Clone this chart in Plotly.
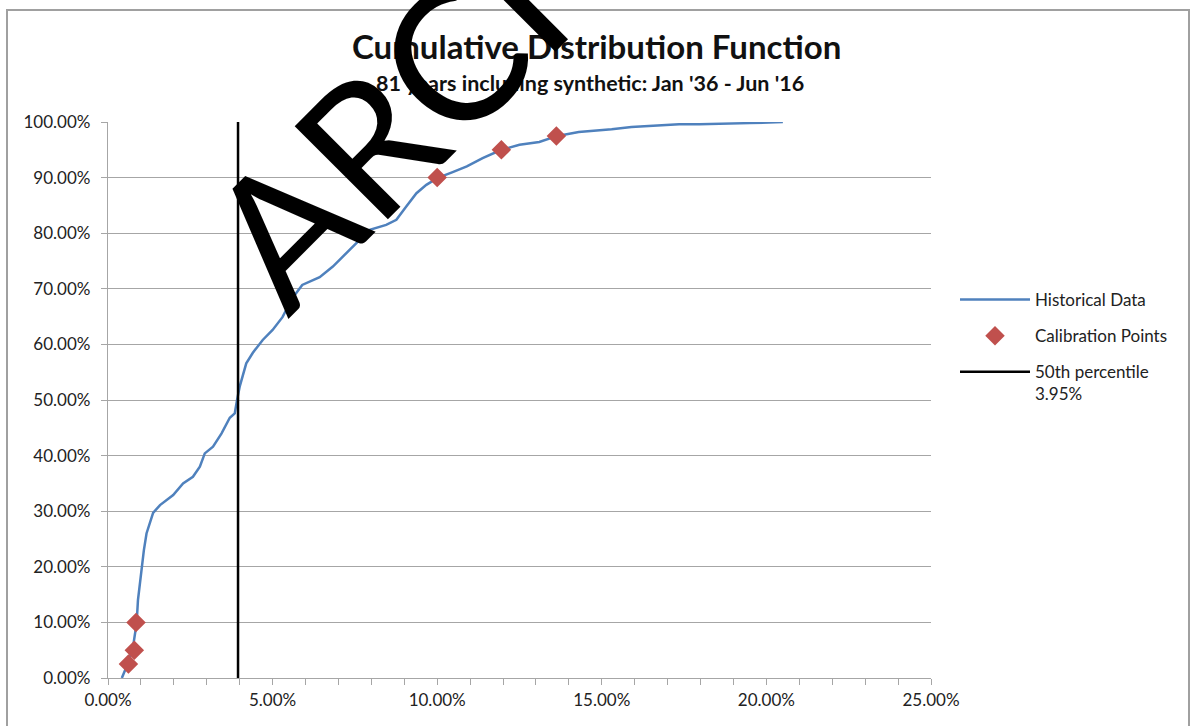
import plotly.graph_objects as go

# ---- data (values in percent) ----
hist_x = [0.42, 0.61, 0.76, 0.87, 0.91, 1.02, 1.09, 1.17, 1.37, 1.58, 1.78, 1.98, 2.28, 2.58,
          2.79, 2.94, 3.19, 3.45, 3.70, 3.85, 3.92, 4.00, 4.20, 4.40, 4.70, 5.00, 5.30, 5.60,
          5.90, 6.43, 6.83, 7.24, 7.64, 7.95, 8.45, 8.76, 9.06, 9.37, 9.67, 10.00, 10.47,
          10.90, 11.38, 11.95, 12.50, 13.10, 13.65, 14.30, 15.30, 15.90, 17.35, 17.96, 19.50, 20.50]
hist_y = [0.0, 2.7, 5.6, 9.9, 14.0, 20.0, 23.0, 26.0, 29.7, 31.1, 32.0, 32.9, 35.0, 36.2,
          38.0, 40.4, 41.6, 44.0, 46.8, 47.6, 50.0, 52.4, 56.6, 58.5, 60.8, 62.6, 64.9, 68.3,
          70.7, 72.1, 74.0, 76.4, 78.8, 80.6, 81.5, 82.4, 84.8, 87.2, 88.7, 89.9, 91.0,
          92.0, 93.5, 95.0, 95.9, 96.4, 97.5, 98.2, 98.7, 99.1, 99.6, 99.6, 99.8, 100.0]

calib_x = [0.62, 0.80, 0.85, 10.00, 11.95, 13.62]
calib_y = [2.5, 5.0, 10.0, 90.0, 95.0, 97.5]

p50_x = [3.95, 3.95]
p50_y = [0.0, 100.0]

title_text = "Cumulative Distribution Function"
subtitle_text = "81 years including synthetic: Jan '36 - Jun '16"
watermark_text = "ARCHIVE"

FONT = "Lato"
GRID = "#A6A6A6"

fig = go.Figure()
fig.add_trace(go.Scatter(x=hist_x, y=hist_y, mode="lines", name="Historical Data",
                         line=dict(color="#4F81BD", width=2.5), legendgroup="a"))
fig.add_trace(go.Scatter(x=calib_x, y=calib_y, mode="markers", name="Calibration Points",
                         marker=dict(symbol="diamond", color="#C0504D", size=15),
                         legendgroup="b"))
fig.add_trace(go.Scatter(x=p50_x, y=p50_y, mode="lines", name="50th percentile<br>3.95%",
                         line=dict(color="black", width=2.5), legendgroup="c"))

W, H = 1193, 726
L, R, T, B = 108, 931, 122, 678

def px(xp):
    return (xp - L) / (R - L)

def py(yp):
    return (B - yp) / (B - T)

fig.update_layout(
    width=W, height=H,
    margin=dict(l=L, r=W - R, t=T, b=H - B),
    paper_bgcolor="white", plot_bgcolor="white",
    font=dict(family=FONT, color="#222222", size=17),
    showlegend=True,
    legend=dict(x=px(955), y=py(282), xanchor="left", yanchor="top",
                font=dict(family=FONT, size=17, color="#222222"),
                itemwidth=70, tracegroupgap=11, valign="top",
                bgcolor="rgba(0,0,0,0)"),
    xaxis=dict(range=[0, 25], dtick=5, tickformat=".2f", ticksuffix="%",
               showgrid=False, zeroline=False, showline=True, linecolor=GRID, linewidth=1.3,
               ticks="outside", ticklen=6, tickcolor=GRID, tickwidth=1.3,
               minor=dict(dtick=1, ticks="outside", ticklen=6, tickcolor=GRID, tickwidth=1.3,
                          showgrid=False),
               tickfont=dict(family=FONT, size=17, color="#222222"), fixedrange=True),
    yaxis=dict(range=[0, 100], dtick=10, tickformat=".2f", ticksuffix="%",
               showgrid=True, gridcolor=GRID, gridwidth=1.3, zeroline=False,
               showline=True, linecolor=GRID, linewidth=1.3,
               ticks="outside", ticklen=6, tickcolor=GRID, tickwidth=1.3,
               ticklabelstandoff=7,
               tickfont=dict(family=FONT, size=17, color="#222222"), fixedrange=True),
)

# chart frame
fig.add_shape(type="rect", xref="paper", yref="paper",
              x0=px(7), x1=px(1189), y0=py(740), y1=py(10),
              line=dict(color="#A0A0A0", width=2), fillcolor="rgba(0,0,0,0)", layer="below")

fig.add_annotation(text="<b>" + title_text + "</b>", xref="paper", yref="paper",
                   x=px(596), y=py(46), xanchor="center", yanchor="middle", showarrow=False,
                   font=dict(family=FONT, size=33, color="#111111"))
fig.add_annotation(text="<b>" + subtitle_text + "</b>", xref="paper", yref="paper",
                   x=px(590), y=py(83), xanchor="center", yanchor="middle", showarrow=False,
                   font=dict(family=FONT, size=21.5, color="#111111"))

# watermark
fig.add_annotation(text=watermark_text, xref="paper", yref="paper",
                   x=px(515), y=py(-8), xanchor="center", yanchor="middle", showarrow=False,
                   textangle=-45, font=dict(family=FONT, size=184, color="black"))

fig.write_html("out.html", post_script="document.body.style.margin='0';",
               config={"displayModeBar": False})
